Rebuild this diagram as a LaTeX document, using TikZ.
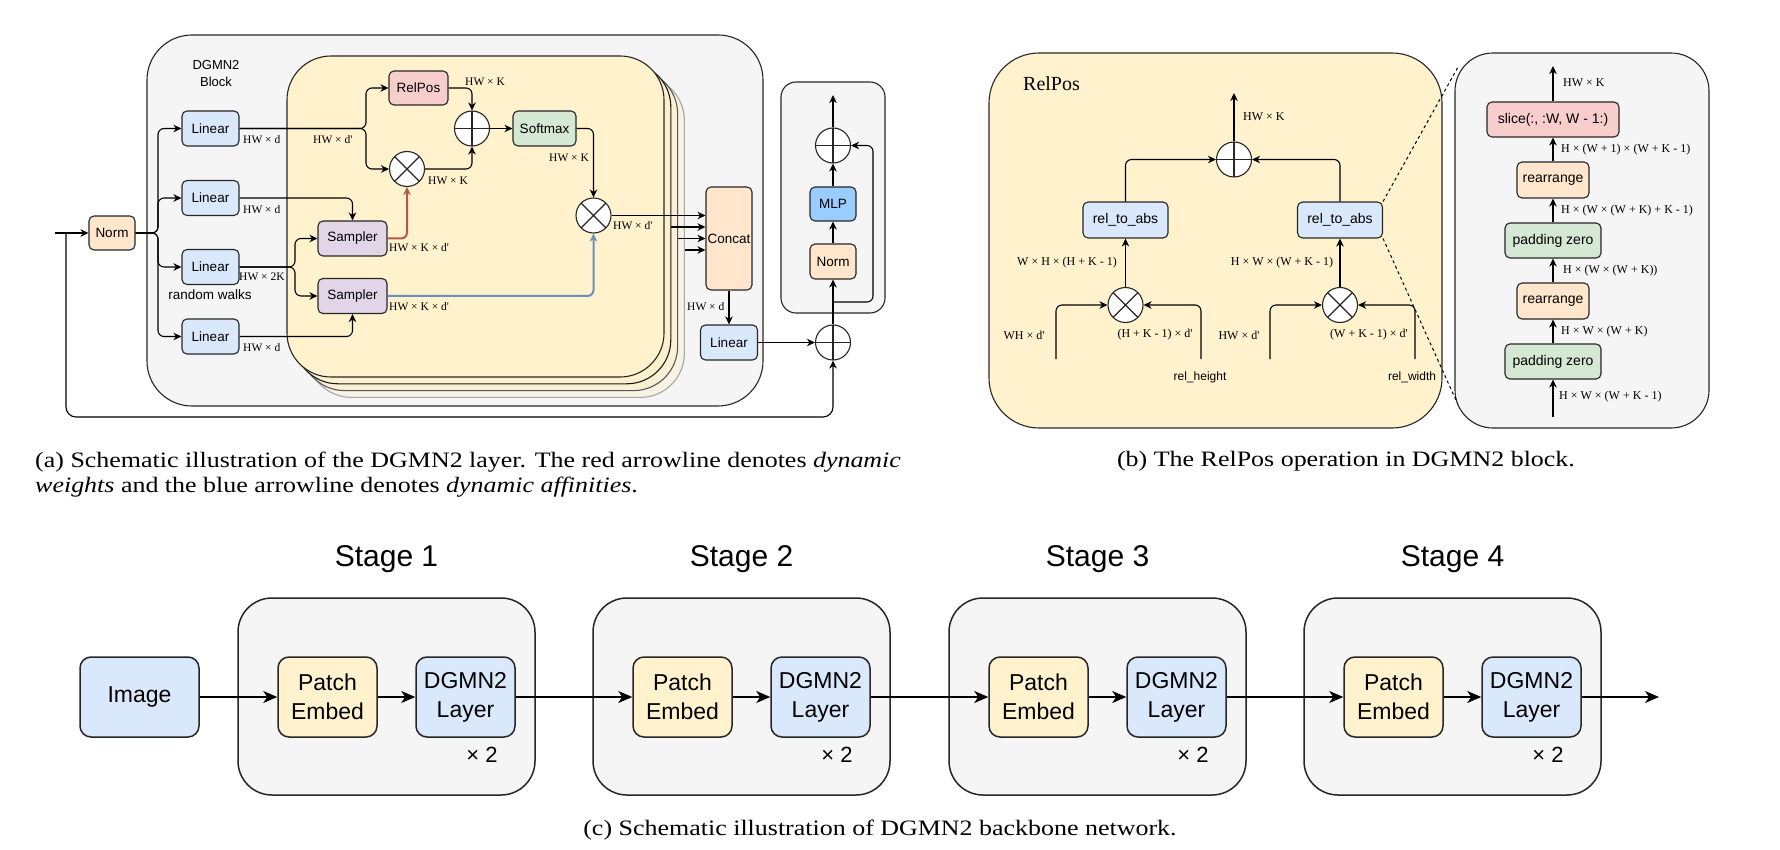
\documentclass[tikz,border=0pt]{standalone}
\usepackage{fontspec}
\setmainfont{Liberation Sans}
\newfontfamily\lblfont{Liberation Serif}
\newfontfamily\capfont[FakeStretch=1.18]{Liberation Serif}
\usetikzlibrary{arrows.meta}

\definecolor{cblue}{HTML}{DAE8FC}
\definecolor{corange}{HTML}{FFE6CC}
\definecolor{cred}{HTML}{F8CECC}
\definecolor{cgreen}{HTML}{D5E8D4}
\definecolor{cpurple}{HTML}{E1D5E7}
\definecolor{cyellow}{HTML}{FFF2CC}
\definecolor{cyA}{HTML}{FDF0CD}
\definecolor{cyB}{HTML}{FAF0D6}
\definecolor{cyC}{HTML}{F7F2E3}
\definecolor{cgray}{HTML}{F5F5F5}
\definecolor{cmlp}{HTML}{99CCFF}
\definecolor{redline}{HTML}{B85450}
\definecolor{blueline}{HTML}{6C8EBF}
\definecolor{edge}{HTML}{262626}

\begin{document}
\begin{tikzpicture}[x=1pt,y=-1pt,
 blk/.style={draw=edge, line width=1.1pt, rounded corners=5pt, inner sep=0pt, align=center, font=\fontsize{13.5}{15}\selectfont},
 lbl/.style={inner sep=0pt, anchor=west, font=\lblfont\fontsize{11.5}{12}\selectfont},
 lblb/.style={inner sep=0pt, font=\lblfont\fontsize{12}{13}\selectfont},
 arr/.style={draw=black, line width=1.1pt, rounded corners=6pt, -{Stealth[length=8pt,width=7.5pt,inset=2.5pt]}},
 ln/.style={draw=black, line width=1.1pt, rounded corners=6pt},
 opnode/.style={circle, draw=edge, fill=white, line width=1.1pt, minimum size=35pt, inner sep=0pt},
 otimes/.style={opnode, path picture={\draw[line width=1.1pt] (path picture bounding box.north west) -- (path picture bounding box.south east) (path picture bounding box.north east) -- (path picture bounding box.south west);}},
 oplus/.style={opnode, path picture={\draw[line width=1.1pt] (path picture bounding box.north) -- (path picture bounding box.south) (path picture bounding box.west) -- (path picture bounding box.east);}},
 bigblk/.style={draw=edge, line width=1.5pt, rounded corners=11pt, inner sep=0pt, align=center, minimum width=99pt, minimum height=80pt, font=\fontsize{23}{29}\selectfont},
 bigarr/.style={draw=black, line width=1.5pt, -{Stealth[length=14pt,width=12pt,inset=4pt]}},
 stagebox/.style={draw=edge, line width=1.5pt, rounded corners=34pt, fill=cgray},
 capt/.style={inner sep=0pt, font=\capfont\fontsize{22}{22}\selectfont},
 ]
\fill[white] (0,0) rectangle (1780,850);
\useasboundingbox (0,0) rectangle (1780,850);

% ---------------- (a) ----------------
\draw[line width=1.1pt, draw=edge, fill=cgray, rounded corners=45pt] (147,35) rectangle (763,406);
\draw[line width=1.1pt, draw=black!35, fill=cyC, rounded corners=44pt] (307.4,76.4) rectangle (684.4,397.4);
\draw[line width=1.1pt, draw=black!65, fill=cyB, rounded corners=44pt] (300.6,69.6) rectangle (677.6,390.6);
\draw[line width=1.1pt, draw=black!90, fill=cyA, rounded corners=44pt] (293.8,62.8) rectangle (670.8,383.8);
\draw[line width=1.1pt, draw=edge, fill=cyellow, rounded corners=44pt] (287,56) rectangle (664,377);
\draw[line width=1.1pt, draw=edge, fill=cgray, rounded corners=15pt] (781,82) rectangle (885,313);

\node[align=center, inner sep=0pt, font=\fontsize{13}{17}\selectfont] (blockt) at (216,74) {DGMN2\\Block};
\node[inner sep=0pt, font=\fontsize{13.5}{15}\selectfont] (rw) at (210,295) {random walks};

\node[blk, fill=corange, minimum width=46pt, minimum height=34pt] (norm1) at (112,233) {Norm};
\node[blk, fill=cblue, minimum width=57pt, minimum height=35pt] (lin1) at (210.5,128.5) {Linear};
\node[blk, fill=cblue, minimum width=57pt, minimum height=35pt] (lin2) at (210.5,198) {Linear};
\node[blk, fill=cblue, minimum width=57pt, minimum height=35pt] (lin3) at (210.5,267) {Linear};
\node[blk, fill=cblue, minimum width=57pt, minimum height=35pt] (lin4) at (210.5,336.5) {Linear};
\node[blk, fill=cred, minimum width=59pt, minimum height=34pt] (relpos) at (418.5,88) {RelPos};
\node[otimes] (mul1) at (407,169) {};
\node[oplus] (add1) at (472,128.5) {};
\node[blk, fill=cgreen, minimum width=63pt, minimum height=35pt] (softmax) at (544.5,128.5) {Softmax};
\node[otimes] (mul2) at (593.5,215.5) {};
\node[blk, fill=cpurple, minimum width=69pt, minimum height=35pt] (samp1) at (352.5,238.5) {Sampler};
\node[blk, fill=cpurple, minimum width=69pt, minimum height=35pt] (samp2) at (352.5,296) {Sampler};
\node[blk, fill=corange, minimum width=46pt, minimum height=103pt] (concat) at (729,238.5) {Concat};
\node[blk, fill=cblue, minimum width=57pt, minimum height=35pt] (lin5) at (729,342.5) {Linear};
\node[oplus] (add2) at (833,342.5) {};
\node[blk, fill=corange, minimum width=46pt, minimum height=35pt] (norm2) at (833,261.5) {Norm};
\node[blk, fill=cmlp, minimum width=46pt, minimum height=34pt] (mlp) at (833,204) {MLP};
\node[oplus] (add3) at (833,145.5) {};

\coordinate (inp) at (55,233);
\coordinate (sk) at (66,233);
\coordinate (skb) at (66,417);
\coordinate (bus) at (158,233);
\coordinate (j1) at (366,128.5);
\coordinate (j3) at (295,267);
\coordinate (c1) at (671,227);
\coordinate (c2) at (678,238.5);
\coordinate (c3) at (685,250);
\coordinate (out1) at (833,95);
\coordinate (br) at (833,302);
\coordinate (brr) at (873,302);

\draw[arr] (inp) -- (norm1);
\draw[arr, rounded corners=10pt] (sk) -- (skb) -| (add2.south);
\draw[arr] (norm1.east) -- (bus) |- (lin1.west);
\draw[arr] (norm1.east) -- (bus) |- (lin2.west);
\draw[arr] (norm1.east) -- (bus) |- (lin3.west);
\draw[arr] (norm1.east) -- (bus) |- (lin4.west);
\draw[arr] (lin1.east) -- (j1) |- (relpos.west);
\draw[arr] (lin1.east) -- (j1) |- (mul1.west);
\draw[arr] (lin2.east) -| (samp1.north);
\draw[arr] (lin3.east) -- (j3) |- (samp1.west);
\draw[arr] (lin3.east) -- (j3) |- (samp2.west);
\draw[arr] (lin4.east) -| (samp2.south);
\draw[arr, draw=redline, line width=2pt] (samp1.east) -| (mul1.south);
\draw[arr, draw=blueline, line width=2pt] (samp2.east) -| (mul2.south);
\draw[arr] (relpos.east) -| (add1.north);
\draw[arr] (mul1.east) -| (add1.south);
\draw[arr] (add1.east) -- (softmax.west);
\draw[arr] (softmax.east) -| (mul2.north);
\draw[arr] (mul2.east) -- (concat.west |- mul2.east);
\draw[arr] (c1) -- (concat.west |- c1);
\draw[arr] (c2) -- (concat.west |- c2);
\draw[arr] (c3) -- (concat.west |- c3);
\draw[arr] (concat.south) -- (lin5.north);
\draw[arr] (lin5.east) -- (add2.west);
\draw[arr] (add2.north) -- (norm2.south);
\draw[arr] (norm2.north) -- (mlp.south);
\draw[arr] (mlp.north) -- (add3.south);
\draw[arr] (add3.north) -- (out1);
\draw[arr] (br) -- (brr) |- (add3.east);

\node[lbl] (la1) at (243,140) {HW × d};
\node[lbl] (la2) at (243,209.5) {HW × d};
\node[lbl] (la3) at (239,277) {HW × 2K};
\node[lbl] (la4) at (243,348) {HW × d};
\node[lbl] (la5) at (313,140) {HW × d'};
\node[lbl] (la6) at (465,82) {HW × K};
\node[lbl] (la7) at (428,181) {HW × K};
\node[lbl] (la8) at (549,158) {HW × K};
\node[lbl] (la9) at (389,248) {HW × K × d'};
\node[lbl] (la10) at (389,307) {HW × K × d'};
\node[lbl] (la11) at (613,226) {HW × d'};
\node[lbl] (la12) at (687,307) {HW × d};

% ---------------- (b) ----------------
\draw[line width=1.1pt, draw=edge, fill=cyellow, rounded corners=50pt] (989,53) rectangle (1442,428);
\node[anchor=west, inner sep=0pt, font=\lblfont\fontsize{20}{22}\selectfont] (rpt) at (1023,84) {RelPos};

\node[oplus] (addB) at (1234,159.5) {};
\node[blk, fill=cblue, minimum width=85pt, minimum height=36pt, font=\fontsize{14}{16}\selectfont] (rtaL) at (1125.5,220) {rel\_to\_abs};
\node[blk, fill=cblue, minimum width=85pt, minimum height=36pt, font=\fontsize{14}{16}\selectfont] (rtaR) at (1340,220) {rel\_to\_abs};
\node[otimes] (mulL) at (1125.5,305) {};
\node[otimes] (mulR) at (1340,305) {};

\coordinate (outB) at (1234,93);
\coordinate (iL1) at (1056,359);
\coordinate (iL2) at (1201,359);
\coordinate (iR1) at (1270,359);
\coordinate (iR2) at (1415,359);
\coordinate (dz1) at (1458,67);
\coordinate (dz2) at (1459,407);

\draw[arr] (addB.north) -- (outB);
\draw[arr] (rtaL.north) |- (addB.west);
\draw[arr] (rtaR.north) |- (addB.east);
\draw[arr] (mulL.north) -- (rtaL.south);
\draw[arr] (mulR.north) -- (rtaR.south);
\draw[arr] (iL1) |- (mulL.west);
\draw[arr] (iL2) |- (mulL.east);
\draw[arr] (iR1) |- (mulR.west);
\draw[arr] (iR2) |- (mulR.east);

\node[lblb, anchor=west] (lb1) at (1243,117) {HW × K};
\node[lblb] (lb2) at (1067,263) {W × H × (H + K - 1)};
\node[lblb] (lb3) at (1282,263) {H × W × (W + K - 1)};
\node[lblb] (lb4) at (1024,335) {WH × d'};
\node[lblb] (lb5) at (1155,335) {(H + K - 1) × d'};
\node[lblb] (lb6) at (1239,335) {HW × d'};
\node[lblb] (lb7) at (1369,335) {(W + K - 1) × d'};
\node[inner sep=0pt, font=\fontsize{12}{13}\selectfont] (lb8) at (1200,377) {rel\_height};
\node[inner sep=0pt, font=\fontsize{12}{13}\selectfont] (lb9) at (1412,377) {rel\_width};

\draw[line width=1pt, dash pattern=on 3pt off 3pt] (rtaR.north east) -- (dz1);
\draw[line width=1pt, dash pattern=on 3pt off 3pt] (rtaR.south east) -- (dz2);

\draw[line width=1.1pt, draw=edge, fill=cgray, rounded corners=38pt] (1455,53) rectangle (1709,428);
\node[blk, fill=cred, minimum width=132pt, minimum height=35pt, font=\fontsize{14}{16}\selectfont] (slice) at (1553,119.5) {slice(:, :W, W - 1:)};
\node[blk, fill=corange, minimum width=72pt, minimum height=36pt, font=\fontsize{14}{16}\selectfont] (rea1) at (1553,180) {rearrange};
\node[blk, fill=cgreen, minimum width=96pt, minimum height=35pt, font=\fontsize{14}{16}\selectfont] (pad1) at (1553,240.5) {padding zero};
\node[blk, fill=corange, minimum width=72pt, minimum height=36pt, font=\fontsize{14}{16}\selectfont] (rea2) at (1553,301) {rearrange};
\node[blk, fill=cgreen, minimum width=96pt, minimum height=35pt, font=\fontsize{14}{16}\selectfont] (pad2) at (1553,361.5) {padding zero};
\coordinate (inS) at (1553,417);
\coordinate (outS) at (1553,66);
\draw[arr] (inS) -- (pad2.south);
\draw[arr] (pad2.north) -- (rea2.south);
\draw[arr] (rea2.north) -- (pad1.south);
\draw[arr] (pad1.north) -- (rea1.south);
\draw[arr] (rea1.north) -- (slice.south);
\draw[arr] (slice.north) -- (outS);

\node[lblb, anchor=west] (ls1) at (1563,83) {HW × K};
\node[lblb, anchor=west] (ls2) at (1561,150) {H × (W + 1) × (W + K - 1)};
\node[lblb, anchor=west] (ls3) at (1561,211) {H × (W × (W + K) + K - 1)};
\node[lblb, anchor=west] (ls4) at (1563,271) {H × (W × (W + K))};
\node[lblb, anchor=west] (ls5) at (1561,332) {H × W × (W + K)};
\node[lblb, anchor=west] (ls6) at (1559,397) {H × W × (W + K - 1)};

% ---------------- (c) ----------------
\foreach \i/\x in {1/238,2/593,3/949,4/1304}{
  \draw[stagebox] (\x,598) rectangle (\x+297,795);
  \node[inner sep=0pt, font=\fontsize{30}{32}\selectfont] (st\i) at (\x+148.5,559) {Stage \i};
  \node[bigblk, fill=cyellow] (pe\i) at (\x+89.5,697) {Patch\\Embed};
  \node[bigblk, fill=cblue] (dg\i) at (\x+227.5,697) {DGMN2\\Layer};
  \node[inner sep=0pt, font=\fontsize{22}{24}\selectfont] (xx\i) at (\x+244,755) {× 2};
  \draw[bigarr] (pe\i) -- (dg\i);
}
\node[bigblk, fill=cblue, minimum width=119pt] (img) at (139.5,697) {Image};
\coordinate (fin) at (1659,697);
\draw[bigarr] (img) -- (pe1);
\draw[bigarr] (dg1) -- (pe2);
\draw[bigarr] (dg2) -- (pe3);
\draw[bigarr] (dg3) -- (pe4);
\draw[bigarr] (dg4) -- (fin);

% ---------------- captions ----------------
\node[capt, anchor=base west] (capa1) at (35,467) {(a) Schematic illustration of the DGMN2 layer. The red arrowline denotes \textit{dynamic}};
\node[capt, anchor=base west] (capa2) at (35,492) {\textit{weights} and the blue arrowline denotes \textit{dynamic affinities}.};
\node[capt, anchor=base] (capb) at (1346,466) {(b) The RelPos operation in DGMN2 block.};
\node[capt, anchor=base] (capc) at (880,835) {(c) Schematic illustration of DGMN2 backbone network.};
\end{tikzpicture}
\end{document}
